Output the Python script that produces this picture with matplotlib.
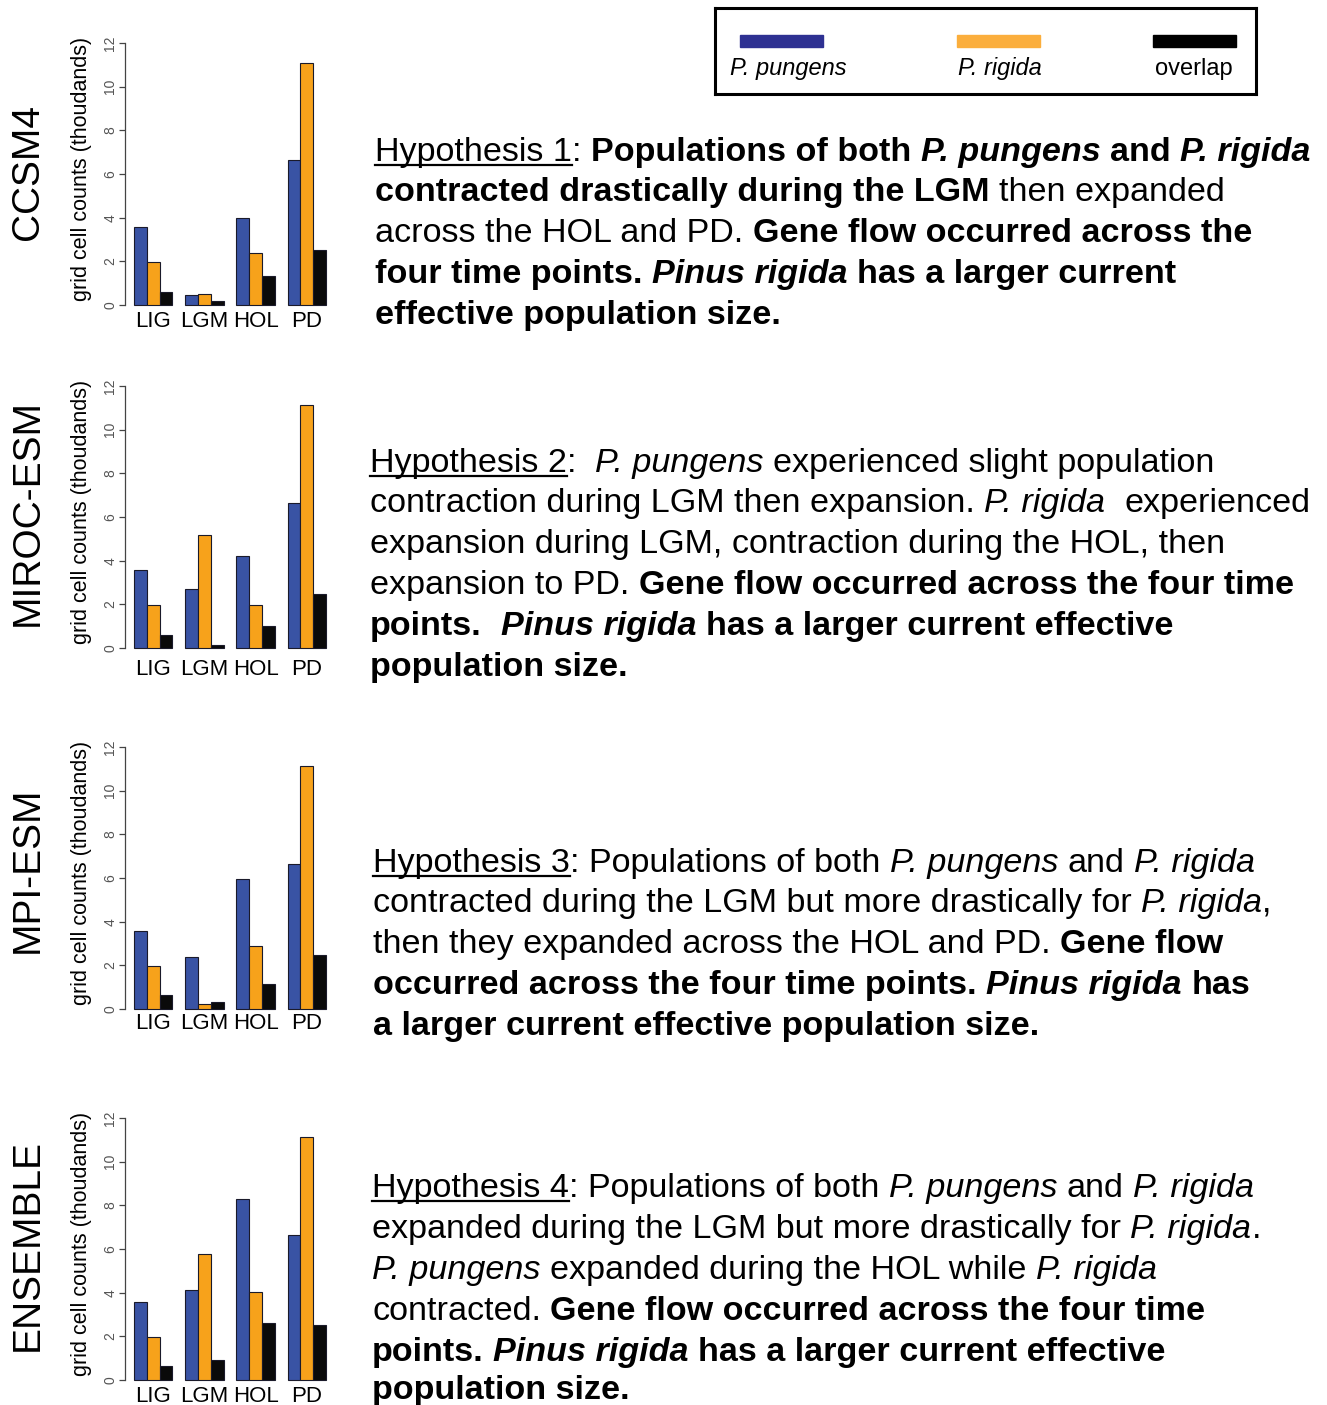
import matplotlib
matplotlib.use('Agg')
import matplotlib.pyplot as plt
import matplotlib.font_manager as fm
from matplotlib.lines import Line2D
from matplotlib.patches import Rectangle
import numpy as np

W, H = 1327, 1405

# ---- data (thousands of grid cells) ----
periods = ['LIG', 'LGM', 'HOL', 'PD']
models = ['CCSM4', 'MIROC-ESM', 'MPI-ESM', 'ENSEMBLE']

pungens = [[3.58, 0.46, 3.99, 6.62],
           [3.56, 2.70, 4.20, 6.63],
           [3.56, 2.38, 5.97, 6.64],
           [3.58, 4.13, 8.29, 6.65]]
rigida = [[1.98, 0.50, 2.36, 11.10],
          [1.95, 5.18, 1.98, 11.13],
          [1.98, 0.24, 2.87, 11.15],
          [1.99, 5.78, 4.05, 11.13]]
overlap = [[0.61, 0.18, 1.33, 2.50],
           [0.61, 0.15, 0.99, 2.47],
           [0.64, 0.30, 1.15, 2.49],
           [0.64, 0.90, 2.63, 2.51]]

series_names = ['P. pungens', 'P. rigida', 'overlap']
bar_colors = ['#3953a4', '#f7a21b', '#0a0a0a']
legend_colors = ['#2e3192', '#fbae3c', '#000000']

# hypothesis texts: (text, style) runs, one list per line
# r=regular b=bold i=italic bi=bold italic u=underlined
hyp1 = [[('Hypothesis 1', 'u'), (': ', 'r'), ('Populations of both ', 'b'), ('P. pungens', 'bi'), (' and ', 'b'), ('P. rigida', 'bi')],
        [('contracted drastically during the LGM', 'b'), (' then expanded', 'r')],
        [('across the HOL and PD. ', 'r'), ('Gene flow occurred across the', 'b')],
        [('four time points. ', 'b'), ('Pinus rigida', 'bi'), (' has a larger current', 'b')],
        [('effective population size.', 'b')]]
hyp2 = [[('Hypothesis 2', 'u'), (':  ', 'r'), ('P. pungens', 'i'), (' experienced slight population', 'r')],
        [('contraction during LGM then expansion. ', 'r'), ('P. rigida', 'i'), ('  experienced', 'r')],
        [('expansion during LGM, contraction during the HOL, then', 'r')],
        [('expansion to PD. ', 'r'), ('Gene flow occurred across the four time', 'b')],
        [('points.  ', 'b'), ('Pinus rigida', 'bi'), (' has a larger current effective', 'b')],
        [('population size.', 'b')]]
hyp3 = [[('Hypothesis 3', 'u'), (': Populations of both ', 'r'), ('P. pungens', 'i'), (' and ', 'r'), ('P. rigida', 'i')],
        [('contracted during the LGM but more drastically for ', 'r'), ('P. rigida', 'i'), (',', 'r')],
        [('then they expanded across the HOL and PD. ', 'r'), ('Gene flow', 'b')],
        [('occurred across the four time points. ', 'b'), ('Pinus rigida', 'bi'), (' has', 'b')],
        [('a larger current effective population size.', 'b')]]
hyp4 = [[('Hypothesis 4', 'u'), (': Populations of both ', 'r'), ('P. pungens', 'i'), (' and ', 'r'), ('P. rigida', 'i')],
        [('expanded during the LGM but more drastically for ', 'r'), ('P. rigida', 'i'), ('.', 'r')],
        [('P. pungens', 'i'), (' expanded during the HOL while ', 'r'), ('P. rigida', 'i')],
        [('contracted. ', 'r'), ('Gene flow occurred across the four time', 'b')],
        [('points. ', 'b'), ('Pinus rigida', 'bi'), (' has a larger current effective', 'b')],
        [('population size.', 'b')]]

plt.rcParams['font.family'] = ['Liberation Sans', 'DejaVu Sans']
names = {f.name for f in fm.fontManager.ttflist}
narrow = 'Liberation Sans Narrow' if 'Liberation Sans Narrow' in names else 'Liberation Sans'

fig = plt.figure(figsize=(W / 100, H / 100), dpi=100)
renderer = fig.canvas.get_renderer()


def px_axes(x0, y0, x1, y1):
    return fig.add_axes([x0 / W, 1 - y1 / H, (x1 - x0) / W, (y1 - y0) / H])


# ---- bar panels ----
panel_y = [(43, 305), (386, 648), (747, 1009), (1118, 1380)]
tick_pad = [4, 8, 3, 4]
model_y = [172, 512, 870, 1245]
grp = np.arange(len(periods)) * 4 + 1

for k in range(4):
    y12, y0 = panel_y[k]
    ax = px_axes(125, y12, 326, y0)
    for j, vals in enumerate([pungens[k], rigida[k], overlap[k]]):
        ax.bar(grp + j, vals, width=1, align='edge', color=bar_colors[j],
               edgecolor='#1a1a2a', linewidth=0.8, clip_on=False)
    ax.set_xlim(0.297, 16)
    ax.set_ylim(0, 12)
    for s in ['top', 'right', 'bottom']:
        ax.spines[s].set_visible(False)
    ax.spines['left'].set_bounds(0, 12)
    ax.spines['left'].set_color('#444444')
    ax.spines['left'].set_linewidth(0.9)
    ax.set_yticks(range(0, 13, 2))
    ax.tick_params(axis='y', labelrotation=90, length=4, pad=1.5, labelsize=10,
                   labelcolor='#555555', color='#444444', width=0.9)
    for lab in ax.get_yticklabels():
        lab.set_va('center')
    ax.set_xticks(grp + 1.5)
    ax.set_xticklabels(periods)
    ax.tick_params(axis='x', length=0, pad=tick_pad[k], labelsize=16)
    ax.set_ylabel('grid cell counts (thoudands)', fontsize=15.5, va='center')
    ax.yaxis.set_label_coords((82 - 125) / 201, 0.52)
    ax.patch.set_alpha(0)
    fig.text(28 / W, 1 - model_y[k] / H, models[k], rotation=90, fontsize=28,
             ha='center', va='center')

# ---- legend box ----
lax = px_axes(715, 8, 1256, 94)
lax.set_xlim(715, 1256)
lax.set_ylim(94, 8)
lax.set_xticks([])
lax.set_yticks([])
for s in lax.spines.values():
    s.set_linewidth(2.2)
for x0, c, lab, lx in zip([740, 957, 1153], legend_colors, series_names, [730, 958, 1155]):
    lax.add_patch(Rectangle((x0, 35), 83, 12, color=c))
    lax.text(lx, 75, lab, fontsize=17, ha='left', va='baseline',
             style='normal' if lab == 'overlap' else 'italic')

# ---- hypothesis text with mixed styles ----
_cache = {}


def style_kw(sty, family):
    return dict(family=family,
                weight='bold' if 'b' in sty else 'normal',
                style='italic' if 'i' in sty else 'normal')


def txt_w(s, size, sty, family):
    key = (s, size, sty, family)
    if key not in _cache:
        t = fig.text(0, 0, '|' + s + '|', fontsize=size, **style_kw(sty, family))
        t2 = fig.text(0, 0, '||', fontsize=size, **style_kw(sty, family))
        _cache[key] = t.get_window_extent(renderer).width - t2.get_window_extent(renderer).width
        t.remove()
        t2.remove()
    return _cache[key]


def draw_block(lines, x, baselines, family, target):
    nominal = 20
    widest = max(sum(txt_w(s, nominal, st, family) for s, st in ln) for ln in lines)
    size = nominal * target / widest
    for ln, yb in zip(lines, baselines):
        cx = x
        for s, st in ln:
            core = s.strip(' ')
            lead = len(s) - len(s.lstrip(' '))
            trail = len(s) - len(s.rstrip(' '))
            if lead:
                cx += txt_w(' ' * lead, size, st, family)
            if core:
                fig.text(cx / W, 1 - yb / H, core, fontsize=size, ha='left',
                         va='baseline', **style_kw(st, family))
                w = txt_w(core, size, st, family)
                if st == 'u':
                    fig.add_artist(Line2D([cx / W, (cx + w) / W],
                                          [1 - (yb + 4) / H, 1 - (yb + 4) / H],
                                          color='black', lw=1.6))
                cx += w
            if trail:
                cx += txt_w(' ' * trail, size, st, family)


draw_block(hyp1, 375, [161, 201, 242, 283, 324], 'Liberation Sans', 935)
draw_block(hyp2, 370, [472, 512, 553, 594, 635, 676], narrow, 938)
draw_block(hyp3, 373, [872, 912, 953, 994, 1035], narrow, 895)
draw_block(hyp4, 372, [1197, 1238, 1279, 1320, 1361, 1399], narrow, 886)

fig.savefig('out.png', dpi=100)
